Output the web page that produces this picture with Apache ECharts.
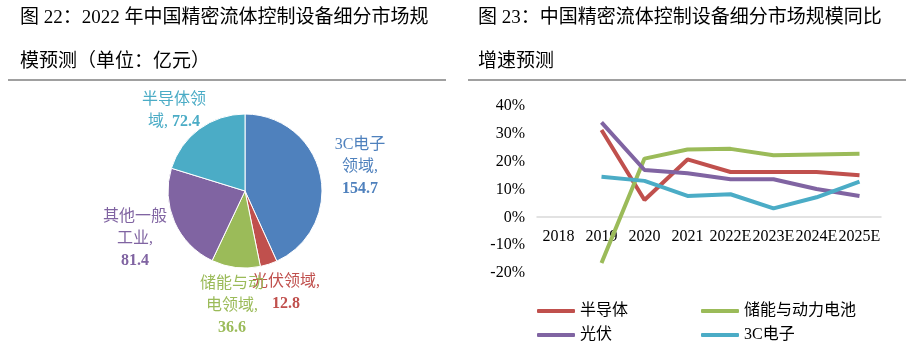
<!DOCTYPE html>
<html>
<head>
<meta charset="utf-8">
<script src="https://cdn.jsdelivr.net/npm/echarts@6/dist/echarts.min.js"></script>
<style>
  html, body { margin: 0; padding: 0; background: #fff; }
  #main { width: 919px; height: 354px; }
</style>
</head>
<body>
<div id="main"></div>
<script>
// pie: 2022 segment sizes (亿元)
var pieNames = ['3C电子领域', '光伏领域', '储能与动力电池领域', '其他一般工业', '半导体领域'];
var pieValues = [154.7, 12.8, 36.6, 81.4, 72.4];
var pieLabelText = ['3C电子\n领域,\n', '光伏领域,\n', '储能与动\n电领域,\n', '其他一般\n工业,\n', '半导体领\n域, '];
var pieColors = ['#4F81BD', '#C0504D', '#9BBB59', '#8064A2', '#4BACC6'];

// line: yoy growth (%)
var years = ['2018', '2019', '2020', '2021', '2022E', '2023E', '2024E', '2025E'];
var semi = [null, 31.4, 6.2, 20.8, 16.3, 16.3, 16.3, 15.1];
var storage = [null, -16.4, 21.1, 24.4, 24.6, 22.3, 22.6, 22.8];
var pv = [null, 34.1, 17.0, 15.8, 13.7, 13.7, 10.2, 7.7];
var elec = [null, 14.6, 13.1, 7.7, 8.3, 3.2, 7.2, 12.8];

var FONT = '"Liberation Serif", "Noto Sans CJK SC", serif';

// where each pie label sits (center of text block)
var labelPos = [[360, 167], [286, 293], [232, 306], [135, 239], [174, 111]];

var chart = echarts.init(document.getElementById('main'));

function lineSeries(name, data, color) {
    return {
        name: name,
        type: 'line',
        data: data,
        showSymbol: false,
        symbol: 'none',
        color: color,
        lineStyle: { width: 4, color: color },
        xAxisIndex: 0,
        yAxisIndex: 0
    };
}

var option = {
    animation: false,
    title: [{
        text: '图 22：2022 年中国精密流体控制设备细分市场规\n模预测（单位：亿元）',
        left: 20, top: -4, padding: 0,
        textStyle: { fontSize: 19, fontWeight: 'normal', color: '#000', fontFamily: FONT, lineHeight: 44 }
    }, {
        text: '图 23：中国精密流体控制设备细分市场规模同比\n增速预测',
        left: 478, top: -4, padding: 0,
        textStyle: { fontSize: 19, fontWeight: 'normal', color: '#000', fontFamily: FONT, lineHeight: 44 }
    }],
    graphic: [{
        type: 'line', shape: { x1: 8, y1: 80, x2: 446, y2: 80 },
        style: { stroke: '#808080', lineWidth: 1.5 }
    }, {
        type: 'line', shape: { x1: 468, y1: 80, x2: 906, y2: 80 },
        style: { stroke: '#808080', lineWidth: 1.5 }
    }],
    legend: [{
        data: ['半导体', '光伏'],
        orient: 'vertical', left: 532, top: 298,
        itemWidth: 38, itemHeight: 4, itemGap: 8, icon: 'roundRect',
        textStyle: { fontSize: 16, lineHeight: 16, color: '#000', fontFamily: FONT }
    }, {
        data: ['储能与动力电池', '3C电子'],
        orient: 'vertical', left: 696, top: 298,
        itemWidth: 38, itemHeight: 4, itemGap: 8, icon: 'roundRect',
        textStyle: { fontSize: 16, lineHeight: 16, color: '#000', fontFamily: FONT }
    }],
    grid: { left: 537, right: 38, top: 106, height: 167, containLabel: false },
    xAxis: {
        type: 'category',
        data: years,
        offset: -56,
        axisLine: { onZero: false, lineStyle: { color: '#d9d9d9', width: 1.5 } },
        axisTick: { show: false },
        axisLabel: { interval: 0, margin: 12, fontSize: 16, color: '#000', fontFamily: FONT }
    },
    yAxis: {
        type: 'value',
        min: -20, max: 40, interval: 10,
        axisLine: { show: false },
        axisTick: { show: false },
        splitLine: { show: false },
        axisLabel: { formatter: '{value}%', margin: 12, fontSize: 16, color: '#000', fontFamily: FONT }
    },
    series: [
        lineSeries('半导体', semi, '#C0504D'),
        lineSeries('储能与动力电池', storage, '#9BBB59'),
        lineSeries('光伏', pv, '#8064A2'),
        lineSeries('3C电子', elec, '#4BACC6'),
        {
            type: 'pie',
            center: [245, 191],
            radius: 77,
            startAngle: 90,
            clockwise: true,
            data: pieNames.map(function (n, i) {
                return { name: n, value: pieValues[i], itemStyle: { color: pieColors[i] } };
            }),
            itemStyle: { borderColor: '#fff', borderWidth: 1 },
            labelLine: { show: false },
            label: {
                show: true,
                position: 'outside',
                align: 'center',
                lineHeight: 22,
                formatter: function (p) {
                    return '{n|' + pieLabelText[p.dataIndex] + '}{v|' + p.value + '}';
                },
                rich: {
                    n: { fontSize: 16, lineHeight: 22, fontFamily: FONT, color: 'inherit', align: 'center' },
                    v: { fontSize: 16, lineHeight: 22, fontFamily: FONT, fontWeight: 'bold', color: 'inherit', align: 'center' }
                },
                color: 'inherit'
            },
            labelLayout: function (params) {
                var pos = labelPos[params.dataIndex];
                return { x: pos[0], y: pos[1], align: 'center', verticalAlign: 'middle' };
            }
        }
    ]
};

chart.setOption(option);
</script>
</body>
</html>
